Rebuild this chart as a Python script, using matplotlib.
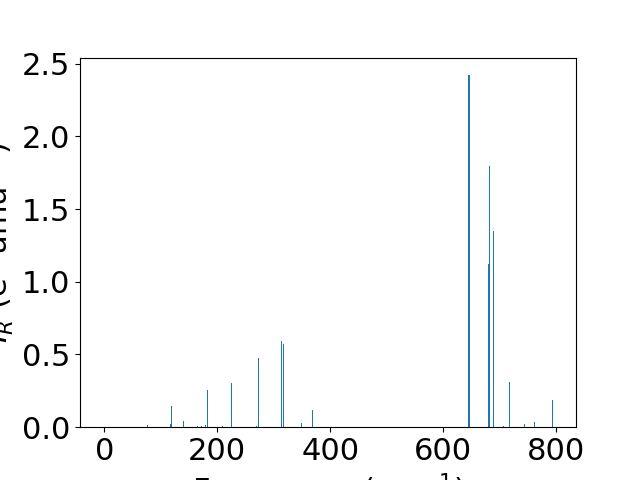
import matplotlib
matplotlib.use("Agg")
import matplotlib.pyplot as plt

# frequencies (cm^-1) and IR intensities
freqs = [76, 117, 118.6, 140, 164.6, 171.7, 178.8, 182.3, 209, 224.8,
         269.7, 272.3, 273.8, 313.3, 316.8, 348.7, 368,
         644.8, 646.3, 680, 681.8, 688.5, 706, 717, 743, 761, 793]
intens = [0.017, 0.02, 0.148, 0.045, 0.01, 0.01, 0.017, 0.257, 0.01, 0.305,
          0.01, 0.477, 0.477, 0.594, 0.573, 0.031, 0.12,
          2.42, 2.42, 1.123, 1.796, 1.35, 0.01, 0.312, 0.02, 0.033, 0.189]

plt.rcParams['font.size'] = 22

fig, ax = plt.subplots(figsize=(6.4, 4.8), dpi=100)
ax.bar(freqs, intens, width=1.8, color='C0')
ax.set_xlim(-43, 835)
ax.set_xlabel("Frequency (cm$^{-1}$)")
ax.set_ylabel("$I_R$ (e$^2$ amu$^{-1}$)")
fig.savefig("out.png")
